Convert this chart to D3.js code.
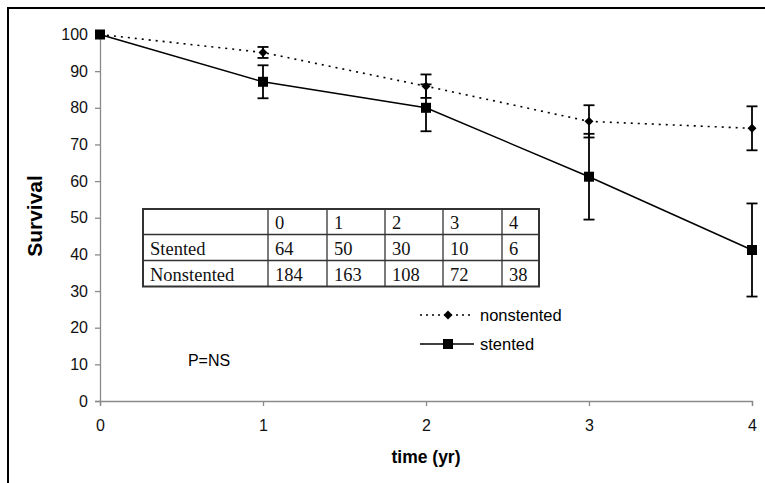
<!DOCTYPE html>
<html>
<head>
<meta charset="utf-8">
<script src="https://cdn.jsdelivr.net/npm/d3@7"></script>
<style>
  body { margin: 0; background: #fff; overflow: hidden; }
  svg { display: block; }
</style>
</head>
<body>
<div id="graph"></div>
<script>
// data
const years = [0, 1, 2, 3, 4];
const nonstented = [100, 95.1, 85.9, 76.3, 74.4];
const nonstentedErr = [0, 1.5, 3.2, 4.4, 6.0];
const stented = [100, 87.1, 80.0, 61.2, 41.2];
const stentedErr = [0, 4.5, 6.4, 11.7, 12.7];
const yTicks = [0, 10, 20, 30, 40, 50, 60, 70, 80, 90, 100];
const tableHead = ['', '0', '1', '2', '3', '4'];
const tableRows = [
  ['Stented', '64', '50', '30', '10', '6'],
  ['Nonstented', '184', '163', '108', '72', '38']
];

const W = 765, H = 483;
const margin = {top: 34.5, right: 13, bottom: 82, left: 100};
const width = W - margin.left - margin.right,
  height = H - margin.top - margin.bottom;
const sans = 'Arial, "Liberation Sans", sans-serif';

const x = d3.scaleLinear().domain([0, 4]).range([0, width]);
const y = d3.scaleLinear().domain([0, 100]).range([height, 0]);

const svg = d3.select('#graph').append('svg')
  .attr('width', W).attr('height', H);

// outer frame: only top and left edges are visible
svg.append('path')
  .attr('d', `M8,${H}V8H${W}`)
  .attr('fill', 'none').attr('stroke', '#000').attr('stroke-width', 2);

const g = svg.append('g')
  .attr('transform', `translate(${margin.left},${margin.top})`);

// axes
const yAxis = g.append('g')
  .call(d3.axisLeft(y).tickValues(yTicks).tickSize(5).tickPadding(7));
const xAxis = g.append('g')
  .attr('transform', `translate(0,${height})`)
  .call(d3.axisBottom(x).tickValues(years).tickFormat(d3.format('d'))
    .tickSize(5).tickPadding(14));
[xAxis, yAxis].forEach(a => {
  a.select('.domain').attr('stroke', '#8a8a8a').attr('stroke-width', 1.3);
  a.selectAll('line').attr('stroke', '#8a8a8a').attr('stroke-width', 1.3);
  a.selectAll('text').attr('font-family', sans)
    .attr('font-size', 16).attr('fill', '#111');
});

svg.append('text')
  .attr('transform', 'translate(42,216) rotate(-90)')
  .attr('text-anchor', 'middle')
  .attr('font-family', sans)
  .attr('font-weight', 'bold').attr('font-size', 21)
  .text('Survival');
svg.append('text')
  .attr('x', margin.left + x(2)).attr('y', 463)
  .attr('text-anchor', 'middle')
  .attr('font-family', sans)
  .attr('font-weight', 'bold').attr('font-size', 17.5)
  .text('time (yr)');

const line = d3.line().x((d, i) => x(years[i])).y(d => y(d));

// error bars
const drawErr = (vals, errs) => {
  years.forEach((yr, i) => {
    if (!errs[i]) return;
    const cx = x(yr), t = y(vals[i] + errs[i]), b = y(vals[i] - errs[i]);
    g.append('line').attr('x1', cx).attr('x2', cx).attr('y1', t).attr('y2', b)
      .attr('stroke', '#000').attr('stroke-width', 1.8);
    [t, b].forEach(v => g.append('line')
      .attr('x1', cx - 5.5).attr('x2', cx + 5.5).attr('y1', v).attr('y2', v)
      .attr('stroke', '#000').attr('stroke-width', 1.8));
  });
};
drawErr(nonstented, nonstentedErr);
drawErr(stented, stentedErr);

g.append('path').datum(nonstented).attr('d', line)
  .attr('fill', 'none').attr('stroke', '#000').attr('stroke-width', 1.6)
  .attr('stroke-dasharray', '2,5');
g.append('path').datum(stented).attr('d', line)
  .attr('fill', 'none').attr('stroke', '#000').attr('stroke-width', 1.5);

// square diamond (rotated square)
const diamond = d3.symbol().type(d3.symbolSquare).size(40);
g.selectAll('.dia').data(nonstented).enter().append('path')
  .attr('transform', (d, i) => `translate(${x(years[i])},${y(d)}) rotate(45)`)
  .attr('d', diamond).attr('fill', '#000');
g.selectAll('.sq').data(stented).enter().append('rect')
  .attr('x', (d, i) => x(years[i]) - 5).attr('y', d => y(d) - 5)
  .attr('width', 10).attr('height', 10).attr('fill', '#000');

// legend
const leg = svg.append('g').attr('transform', 'translate(420,315)');
leg.append('line').attr('x1', 0).attr('x2', 52).attr('y1', 0).attr('y2', 0)
  .attr('stroke', '#000').attr('stroke-width', 1.3).attr('stroke-dasharray', '2,4');
leg.append('path').attr('transform', 'translate(28,0) rotate(45)').attr('d', diamond).attr('fill', '#000');
leg.append('line').attr('x1', 0).attr('x2', 54).attr('y1', 29).attr('y2', 29)
  .attr('stroke', '#000').attr('stroke-width', 1.5);
leg.append('rect').attr('x', 23).attr('y', 24).attr('width', 10).attr('height', 10).attr('fill', '#000');
leg.selectAll('text').data(['nonstented', 'stented']).enter().append('text')
  .attr('x', 60).attr('y', (d, i) => i * 29 + 6)
  .attr('font-family', sans)
  .attr('font-size', 16.5).text(d => d);

svg.append('text')
  .attr('x', 209).attr('y', 366).attr('text-anchor', 'middle')
  .attr('font-family', sans)
  .attr('font-size', 16).text('P=NS');

// number-at-risk table
const colX = [143, 268, 327, 385, 443, 502, 539];
const rowY = [209, 234.5, 260.5, 286.5];
const tb = svg.append('g');
tb.append('rect').attr('x', colX[0]).attr('y', rowY[0])
  .attr('width', colX[6] - colX[0]).attr('height', rowY[3] - rowY[0])
  .attr('fill', '#fff').attr('stroke', '#333').attr('stroke-width', 2);
colX.slice(1, 6).forEach(cx => tb.append('line')
  .attr('x1', cx).attr('x2', cx).attr('y1', rowY[0]).attr('y2', rowY[3])
  .attr('stroke', '#333').attr('stroke-width', 1.3));
rowY.slice(1, 3).forEach(ry => tb.append('line')
  .attr('x1', colX[0]).attr('x2', colX[6]).attr('y1', ry).attr('y2', ry)
  .attr('stroke', '#333').attr('stroke-width', 1.3));
[tableHead].concat(tableRows).forEach((row, r) => {
  row.forEach((cell, c) => {
    tb.append('text')
      .attr('x', colX[c] + 7).attr('y', rowY[r] + 20)
      .attr('font-family', '"Liberation Serif", "Times New Roman", serif')
      .attr('font-size', 18.5).attr('fill', '#111').text(cell);
  });
});
</script>
</body>
</html>
